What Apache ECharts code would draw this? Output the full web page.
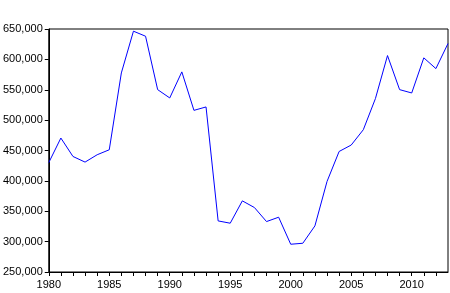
<!DOCTYPE html>
<html>
<head>
<meta charset="utf-8">
<script src="https://cdn.jsdelivr.net/npm/echarts@6/dist/echarts.min.js"></script>
<style>html,body{margin:0;padding:0;background:#fff;}#c{width:450px;height:293px;}</style>
</head>
<body>
<div id="c"></div>
<script>
const years = [1980,1981,1982,1983,1984,1985,1986,1987,1988,1989,1990,1991,1992,1993,1994,1995,1996,1997,1998,1999,2000,2001,2002,2003,2004,2005,2006,2007,2008,2009,2010,2011,2012,2013];
const values = [430000,470500,440200,430900,443000,451200,577700,646400,638100,550200,536500,579400,516100,521700,334100,330300,367100,356100,333000,340200,295700,297300,325900,399000,448400,459000,484200,535400,606300,550200,544700,602500,584800,626100];
const yTicks = [250000,300000,350000,400000,450000,500000,550000,600000,650000];

const chart = echarts.init(document.getElementById('c'), null, {renderer:'canvas'});
const font = 'Liberation Sans, Arial, sans-serif';
chart.setOption({
  animation: false,
  grid: {left: 48, right: 2, top: 29, bottom: 21, show: true, borderColor: '#000', borderWidth: 1, backgroundColor: 'transparent'},
  xAxis: {
    type: 'value', min: 1980, max: 2013, interval: 1,
    axisLine: {show: true, lineStyle: {color: '#000', width: 1}},
    axisTick: {show: true, length: 4, inside: false, lineStyle: {color: '#000'}},
    splitLine: {show: false},
    axisLabel: {
      margin: 7, color: '#000', fontFamily: font, fontSize: 11,
      showMaxLabel: false,
      formatter: v => (v % 5 === 0 ? String(v) : '')
    }
  },
  yAxis: {
    type: 'value', min: yTicks[0], max: yTicks[yTicks.length-1], interval: 50000,
    axisLine: {show: true, lineStyle: {color: '#000', width: 1}},
    axisTick: {show: true, length: 4, lineStyle: {color: '#000'}},
    splitLine: {show: false},
    axisLabel: {
      margin: 6, color: '#000', fontFamily: font, fontSize: 11,
      formatter: v => v.toLocaleString('en-US')
    }
  },
  series: [{
    type: 'line',
    data: years.map((y, i) => [y, values[i]]),
    showSymbol: false,
    symbol: 'none',
    lineStyle: {color: '#0000ff', width: 1},
    itemStyle: {color: '#0000ff'}
  }]
});
</script>
</body>
</html>
